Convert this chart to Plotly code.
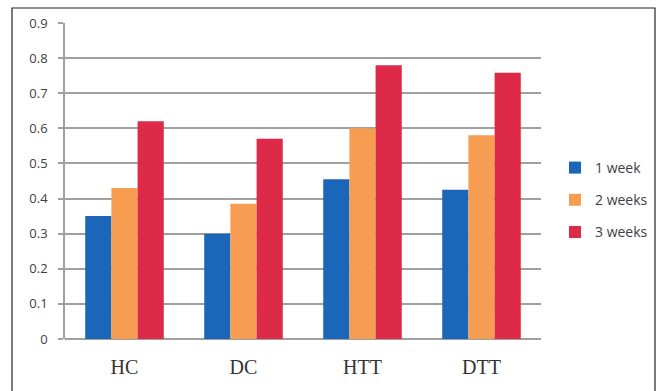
import plotly.graph_objects as go

categories = ["HC", "DC", "HTT", "DTT"]
series_names = ["1 week", "2 weeks", "3 weeks"]
week1 = [0.35, 0.30, 0.455, 0.425]
week2 = [0.43, 0.385, 0.60, 0.58]
week3 = [0.62, 0.57, 0.78, 0.758]
colors = ["#1a66b8", "#f79d52", "#dc2a48"]
y_ticks = [0, 0.1, 0.2, 0.3, 0.4, 0.5, 0.6, 0.7, 0.8, 0.9]
y_ticklabels = ["0", "0.1", "0.2", "0.3", "0.4", "0.5", "0.6", "0.7", "0.8", "0.9"]

fig = go.Figure()
for name, vals, col in zip(series_names, [week1, week2, week3], colors):
    fig.add_trace(go.Bar(x=categories, y=vals, name=name, marker_color=col,
                         marker_line_width=0, legendgroup=name))

W, H = 659, 391
L, R, T, B = 65, 118, 23, 52
pw, ph = W - L - R, H - T - B

fig.update_layout(
    width=W, height=H,
    margin=dict(l=L, r=R, t=T, b=B, autoexpand=False),
    paper_bgcolor="white", plot_bgcolor="white",
    barmode="group", bargap=0.34, bargroupgap=0,
    showlegend=True,
    legend=dict(x=(555 - L) / pw, xanchor="left", y=(339 - 200) / ph, yanchor="middle",
                font=dict(family="Open Sans", size=14, color="#404040"),
                traceorder="grouped", tracegroupgap=11, itemwidth=30),
    xaxis=dict(showline=False, ticks="", tickfont=dict(family="Liberation Serif", size=20, color="#333333"),
               ticklabelstandoff=14),
    yaxis=dict(range=[0, 0.9], tickvals=y_ticks, ticktext=y_ticklabels,
               showgrid=True, gridcolor="#a0a0a0", gridwidth=1.6,
               showline=True, linecolor="#a0a0a0", linewidth=1.6,
               ticks="outside", ticklen=5, tickcolor="#a0a0a0", tickwidth=1.6,
               tickfont=dict(family="Open Sans", size=13, color="#404040"),
               ticklabelstandoff=8,
               zeroline=True, zerolinecolor="#a0a0a0", zerolinewidth=1.6),
    shapes=[dict(type="rect", xref="paper", yref="paper",
                 x0=(12 - L) / pw, x1=(655 - L) / pw,
                 y0=(339 - 400) / ph, y1=(339 - 8) / ph,
                 line=dict(color="#222222", width=1.2), fillcolor="rgba(0,0,0,0)", layer="above")],
)

fig.write_html("out.html")
